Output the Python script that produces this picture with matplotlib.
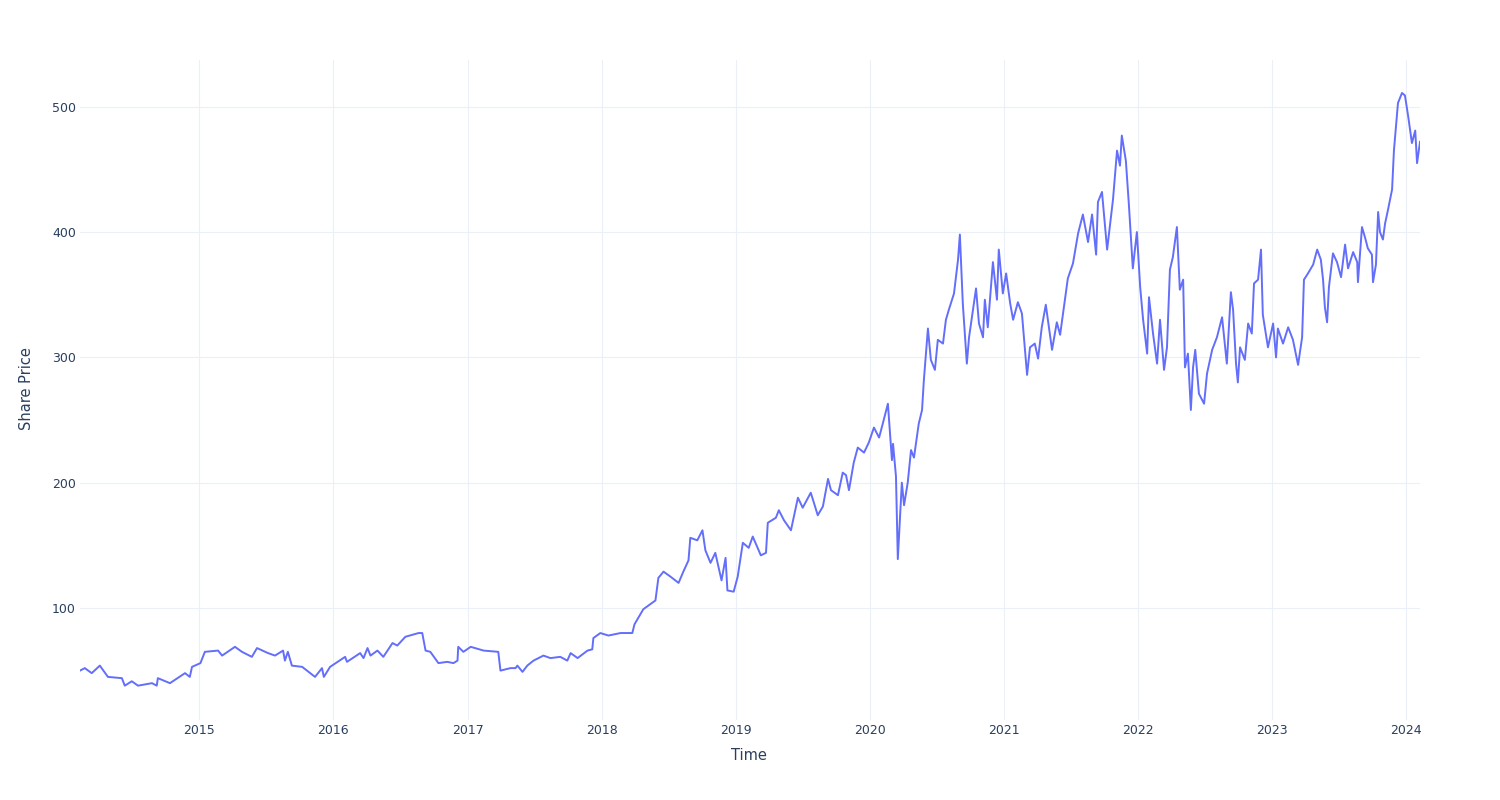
import pandas as pd
import matplotlib.pyplot as plt
import matplotlib.dates as mdates

fechas = [
  "2014-02-10", "2014-02-23", "2014-03-14", "2014-04-05", "2014-04-27", "2014-06-04", "2014-06-12",
  "2014-07-01", "2014-07-18", "2014-08-25", "2014-09-07", "2014-09-10", "2014-10-13", "2014-11-23",
  "2014-12-06", "2014-12-12",
  "2015-01-04", "2015-01-16", "2015-02-21", "2015-03-04", "2015-04-08", "2015-04-27", "2015-05-24",
  "2015-06-07", "2015-07-07", "2015-07-26", "2015-08-17", "2015-08-22", "2015-08-30", "2015-09-10",
  "2015-10-08", "2015-10-21", "2015-11-12", "2015-12-01", "2015-12-06", "2015-12-23",
  "2016-02-02", "2016-02-07", "2016-03-14", "2016-03-23", "2016-04-03", "2016-04-11", "2016-04-30",
  "2016-05-16", "2016-06-10", "2016-06-23", "2016-07-15", "2016-08-20", "2016-08-30", "2016-09-08",
  "2016-09-21", "2016-10-13", "2016-11-06", "2016-11-23", "2016-12-04", "2016-12-06", "2016-12-20",
  "2017-01-09", "2017-02-13", "2017-03-25", "2017-03-31", "2017-04-27", "2017-05-11", "2017-05-16",
  "2017-05-30", "2017-06-12", "2017-06-29", "2017-07-26", "2017-08-14", "2017-09-10", "2017-09-29",
  "2017-10-08", "2017-10-27", "2017-11-23", "2017-12-06", "2017-12-09", "2017-12-28",
  "2018-01-19", "2018-02-21", "2018-03-25", "2018-03-31", "2018-04-24", "2018-05-27", "2018-06-04",
  "2018-06-18", "2018-07-07", "2018-07-29", "2018-08-11", "2018-08-25", "2018-08-30", "2018-09-18",
  "2018-10-02", "2018-10-10", "2018-10-24", "2018-11-06", "2018-11-23", "2018-12-04", "2018-12-09",
  "2018-12-26",
  "2019-01-06", "2019-01-20", "2019-02-05", "2019-02-16", "2019-03-10", "2019-03-24", "2019-03-29",
  "2019-04-20", "2019-04-28", "2019-05-12", "2019-05-31", "2019-06-19", "2019-07-02", "2019-07-24",
  "2019-08-12", "2019-08-26", "2019-09-09", "2019-09-17", "2019-10-06", "2019-10-19", "2019-10-28",
  "2019-11-05", "2019-11-18", "2019-11-29", "2019-12-16", "2019-12-29",
  "2020-01-12", "2020-01-26", "2020-02-05", "2020-02-19", "2020-03-01", "2020-03-04", "2020-03-12",
  "2020-03-17", "2020-03-28", "2020-04-03", "2020-04-13", "2020-04-22", "2020-04-30", "2020-05-13",
  "2020-05-22", "2020-05-27", "2020-06-07", "2020-06-15", "2020-06-26", "2020-07-04", "2020-07-18",
  "2020-07-26", "2020-08-03", "2020-08-17", "2020-08-28", "2020-09-02", "2020-09-10", "2020-09-21",
  "2020-09-27", "2020-10-16", "2020-10-24", "2020-11-04", "2020-11-09", "2020-11-17", "2020-12-01",
  "2020-12-12", "2020-12-17", "2020-12-28",
  "2021-01-06", "2021-01-17", "2021-01-25", "2021-02-07", "2021-02-18", "2021-03-04", "2021-03-12",
  "2021-03-25", "2021-04-03", "2021-04-13", "2021-04-24", "2021-05-11", "2021-05-24", "2021-06-02",
  "2021-06-15", "2021-06-23", "2021-07-07", "2021-07-21", "2021-08-03", "2021-08-17", "2021-08-28",
  "2021-09-08", "2021-09-13", "2021-09-24", "2021-10-08", "2021-10-24", "2021-11-04", "2021-11-12",
  "2021-11-17", "2021-11-28", "2021-12-06", "2021-12-17", "2021-12-28",
  "2022-01-06", "2022-01-14", "2022-01-25", "2022-01-30", "2022-02-10", "2022-02-21", "2022-03-01",
  "2022-03-12", "2022-03-20", "2022-03-28", "2022-04-05", "2022-04-16", "2022-04-24", "2022-05-03",
  "2022-05-08", "2022-05-16", "2022-05-24", "2022-05-30", "2022-06-05", "2022-06-15", "2022-06-29",
  "2022-07-07", "2022-07-21", "2022-08-03", "2022-08-17", "2022-08-30", "2022-09-10", "2022-09-16",
  "2022-09-24", "2022-09-29", "2022-10-05", "2022-10-18", "2022-10-27", "2022-11-06", "2022-11-12",
  "2022-11-23", "2022-12-01", "2022-12-06", "2022-12-20",
  "2023-01-03", "2023-01-11", "2023-01-16", "2023-01-30", "2023-02-13", "2023-02-26", "2023-03-12",
  "2023-03-23", "2023-03-28", "2023-04-08", "2023-04-22", "2023-05-03", "2023-05-13", "2023-05-19",
  "2023-05-24", "2023-05-30", "2023-06-04", "2023-06-15", "2023-06-26", "2023-07-07", "2023-07-18",
  "2023-07-26", "2023-08-09", "2023-08-20", "2023-08-22", "2023-09-02", "2023-09-10", "2023-09-18",
  "2023-09-29", "2023-10-02", "2023-10-10", "2023-10-16", "2023-10-21", "2023-10-29", "2023-11-04",
  "2023-11-12", "2023-11-23", "2023-11-28", "2023-12-06", "2023-12-09", "2023-12-20", "2023-12-28",
  "2024-01-06", "2024-01-16", "2024-01-25", "2024-01-30", "2024-02-07",
]

precios = [
  50, 52, 48, 54, 45, 44, 38,
  41.5, 38, 40, 38, 44, 40, 48,
  45, 53,
  56, 65, 66, 62, 69, 65, 61,
  68, 64, 62, 66, 58, 65, 54,
  53, 50, 45, 52, 45, 53,
  61, 57, 64, 60, 68, 62, 66,
  61, 72, 70, 77, 80, 80, 66,
  65, 56, 57, 56, 58, 69, 65,
  69, 66, 65, 50, 52, 52, 54,
  49, 54, 58, 62, 60, 61, 58,
  64, 60, 66, 67, 76, 80,
  78, 80, 80, 87, 99, 106, 124,
  129, 125, 120, 129, 138, 156, 154,
  162, 146, 136, 144, 122, 140, 114,
  113,
  125, 152, 148, 157, 142, 144, 168,
  172, 178, 170, 162, 188, 180, 192,
  174, 181, 203, 194, 190, 208, 206,
  194, 216, 228, 224, 232,
  244, 236, 247, 263, 218, 231, 205,
  139, 200, 182, 200, 226, 220, 247,
  258, 282, 323, 298, 290, 314, 311,
  330, 338, 351, 378, 398, 343, 295,
  316, 355, 327, 316, 346, 324, 376,
  346, 386, 351,
  367, 343, 330, 344, 335, 286, 308,
  311, 299, 324, 342, 306, 328, 318,
  346, 363, 375, 399, 414, 392, 414,
  382, 424, 432, 386, 426, 465, 453,
  477, 457, 423, 371, 400,
  356, 330, 303, 348, 319, 295, 330,
  290, 308, 370, 380, 404, 354, 362,
  292, 303, 258, 292, 306, 271, 263,
  287, 306, 316, 332, 295, 352, 338,
  295, 280, 308, 298, 327, 319, 359,
  362, 386, 334, 308,
  327, 300, 323, 311, 324, 314, 294,
  316, 362, 367, 374, 386, 378, 362,
  340, 328, 356, 383, 376, 364, 390,
  371, 384, 376, 360, 404, 396, 387,
  382, 360, 374, 416, 400, 394, 407,
  418, 434, 465, 492, 503, 511, 509,
  492, 471, 481, 455, 472,
]

anios = list(range(2015, 2025))
marcas_y = [100, 200, 300, 400, 500]

COLOR_LINEA = '#636EFA'
COLOR_GRID = '#EBF0F8'
COLOR_TEXTO = '#2a3f5f'


def generar_grafico():
  df = pd.DataFrame({'Time': pd.to_datetime(fechas), 'Share Price': precios})

  fig = plt.figure(figsize=(15, 8), dpi=100)
  ax = fig.add_axes([80 / 1500, 80 / 800, 1340 / 1500, 660 / 800])

  ax.plot(df['Time'], df['Share Price'], color=COLOR_LINEA, linewidth=1.4, zorder=3)

  ax.set_xlim(df['Time'].iloc[0], df['Time'].iloc[-1])
  ax.set_ylim(10.6, 537.3)

  ax.set_xticks([pd.Timestamp(f'{a}-01-01') for a in anios])
  ax.xaxis.set_major_formatter(mdates.DateFormatter('%Y'))
  ax.set_yticks(marcas_y)

  ax.grid(True, color=COLOR_GRID, linewidth=0.8, zorder=0)
  ax.set_axisbelow(True)
  for lado in ax.spines.values():
    lado.set_visible(False)
  ax.tick_params(length=0, labelsize=9, labelcolor=COLOR_TEXTO)
  ax.tick_params(axis='y', pad=3)
  ax.tick_params(axis='x', pad=3)

  fig.text(27 / 1500, 1 - 389 / 800, 'Share Price', rotation=90, ha='center', va='center',
           fontsize=10.5, color=COLOR_TEXTO)
  fig.text(749 / 1500, 1 - 756 / 800, 'Time', ha='center', va='center',
           fontsize=10.5, color=COLOR_TEXTO)

  fig.savefig('out.png', dpi=100, facecolor='white')


if __name__ == '__main__':
  generar_grafico()
